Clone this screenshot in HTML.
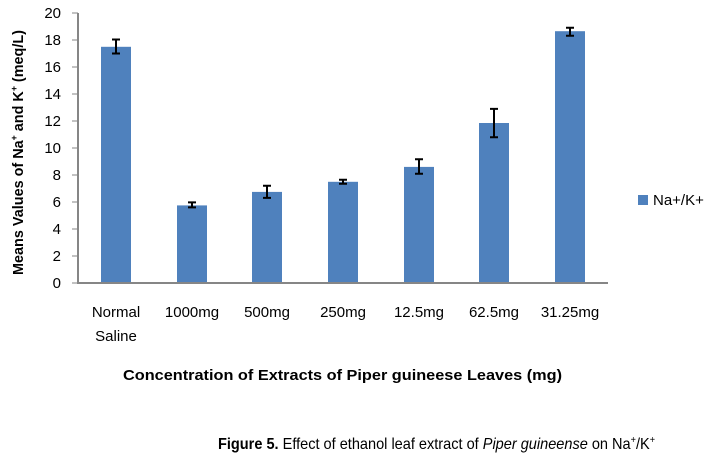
<!DOCTYPE html>
<html><head><style>body{margin:0;background:#fff}</style></head><body>
<svg width="722" height="462" xmlns="http://www.w3.org/2000/svg" font-family="Liberation Sans, sans-serif">
<rect width="722" height="462" fill="#fff"/>
<g fill="#4f81bd">
<rect x="101" y="46.8" width="30" height="236.2"/>
<rect x="177" y="205.4" width="30" height="77.6"/>
<rect x="252" y="191.9" width="30" height="91.1"/>
<rect x="328" y="181.8" width="30" height="101.2"/>
<rect x="404" y="166.9" width="30" height="116.1"/>
<rect x="479" y="123.0" width="30" height="160"/>
<rect x="555" y="31.2" width="30" height="251.8"/>
</g>
<g stroke="#000" stroke-width="2">
<path d="M116 39.5V53.5M112 39.5H120M112 53.5H120"/>
<path d="M192 202.4V207.4M188 202.4H196M188 207.4H196"/>
<path d="M267 185.8V197.9M263 185.8H271M263 197.9H271"/>
<path d="M343 179.8V183.8M339 179.8H347M339 183.8H347"/>
<path d="M419 159.3V173.7M415 159.3H423M415 173.7H423"/>
<path d="M494 108.9V137.2M490 108.9H498M490 137.2H498"/>
<path d="M570 27.8V35.8M566 27.8H574M566 35.8H574"/>
</g>
<g stroke="#868686" stroke-width="2">
<path d="M78 13V283M77 283H608"/>
<path d="M72 13H78M72 40H78M72 67H78M72 94H78M72 121H78M72 148H78M72 175H78M72 202H78M72 229H78M72 256H78M72 283H78" stroke-width="1"/>
</g>
<g font-size="15" text-anchor="end" fill="#000">
<text x="61" y="18">20</text><text x="61" y="45">18</text><text x="61" y="72">16</text><text x="61" y="99">14</text><text x="61" y="126">12</text><text x="61" y="153">10</text><text x="61" y="180">8</text><text x="61" y="207">6</text><text x="61" y="234">4</text><text x="61" y="261">2</text><text x="61" y="288">0</text>
</g>
<g font-size="15" text-anchor="middle" fill="#000">
<text x="116" y="317">Normal</text><text x="116" y="341">Saline</text>
<text x="192" y="317">1000mg</text><text x="267" y="317">500mg</text><text x="343" y="317">250mg</text>
<text x="419" y="317">12.5mg</text><text x="494" y="317">62.5mg</text><text x="570" y="317">31.25mg</text>
</g>
<rect x="638" y="195" width="10" height="10" fill="#4f81bd"/>
<text x="653" y="205" font-size="15">Na+/K+</text>
<text x="123" y="380" font-size="15" font-weight="bold" textLength="439" lengthAdjust="spacingAndGlyphs">Concentration of Extracts of Piper guineese Leaves (mg)</text>
<text transform="translate(23,275) rotate(-90)" font-size="15" font-weight="bold" textLength="245" lengthAdjust="spacingAndGlyphs">Means Values of Na<tspan font-size="9" dy="-6">+</tspan><tspan dy="6"> and K</tspan><tspan font-size="9" dy="-6">+</tspan><tspan dy="6"> (meq/L)</tspan></text>
<text x="218" y="449" font-size="16" textLength="437" lengthAdjust="spacingAndGlyphs"><tspan font-weight="bold">Figure 5.</tspan> Effect of ethanol leaf extract of <tspan font-style="italic">Piper guineense</tspan> on Na<tspan font-size="10" dy="-6">+</tspan><tspan dy="6">/K</tspan><tspan font-size="10" dy="-6">+</tspan></text>
</svg>
</body></html>
